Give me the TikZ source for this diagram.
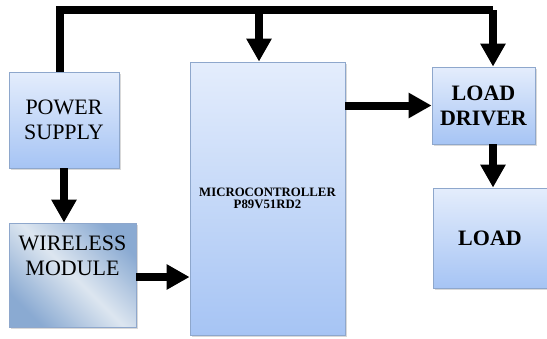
\documentclass[tikz,border=0pt]{standalone}
\usepackage{fontspec}
\setmainfont{LiberationSerif}[Extension=.ttf, UprightFont=*-Regular, BoldFont=*-Bold]
\newfontfamily\blockfont{LiberationSerif}[Extension=.ttf, UprightFont=*-Regular, BoldFont=*-Bold]
\usetikzlibrary{arrows.meta, shadows, calc}

\definecolor{boxtop}{HTML}{E4EDFC}
\definecolor{boxbot}{HTML}{A6C4F4}
\definecolor{boxline}{HTML}{8EA7CC}
\definecolor{wldark}{HTML}{8AAAD2}
\definecolor{wllight}{HTML}{DDE6F0}

\begin{document}
\begin{tikzpicture}[
  x=1pt, y=-1pt,
  block/.style={rectangle, draw=boxline, line width=0.8pt,
                top color=boxtop, bottom color=boxbot,
                align=center, inner sep=0pt,
                drop shadow={opacity=0.3, shadow xshift=1.5pt, shadow yshift=-1.5pt}},
  bigtext/.style={font=\blockfont\fontsize{22}{25}\selectfont},
  boldtext/.style={font=\blockfont\fontsize{22}{25}\selectfont\bfseries},
  smalltext/.style={font=\blockfont\fontsize{12.8}{12}\selectfont\bfseries},
  bus/.style={line width=8pt, line join=miter},
  arrow/.style={line width=8pt, -{Triangle[width=24pt, length=23pt]}}
]
\useasboundingbox (0,0) rectangle (547,338);

% Left column: supply and radio
\node[block, bigtext, minimum width=110pt, minimum height=96pt] (power) at (64,120) {POWER\\SUPPLY};
\node[block, bigtext, minimum width=127pt, minimum height=104pt,
      top color=wldark, bottom color=wldark, middle color=wllight, shading angle=-45,
      text depth=39pt] (wireless) at (72.5,275) {WIRELESS\\MODULE};

% Middle column: controller
\node[block, smalltext, minimum width=155pt, minimum height=273pt] (micro) at (267.5,198.5) {MICROCONTROLLER\\P89V51RD2};

% Right column: driver and load
\node[block, boldtext, minimum width=103pt, minimum height=77pt] (driver) at (483.5,105.5) {LOAD\\DRIVER};
\node[block, boldtext, minimum width=114pt, minimum height=100pt] (load) at (490,238) {LOAD};

% Bus corners along the top
\coordinate (busleft)  at (60,10);
\coordinate (busmid)   at (259,10);
\coordinate (busright) at (493,10);

% --- Arrows ---
% Supply bus to controller and driver
\draw[bus] (power.north -| busleft) -- (busleft) -- (busright);
\draw[arrow] (busright) -- (driver.north -| busright);
\draw[arrow] (busmid) -- (micro.north -| busmid);

% Supply -> wireless module
\draw[arrow] (power.south) -- (power.south |- wireless.north);

% Wireless module -> controller
\draw[arrow] ($(wireless.east)+(0,2)$) -- ($(wireless.east -| micro.west)+(0,2)$);

% Controller -> driver
\draw[arrow] (micro.east |- driver.west) -- (driver.west);

% Driver -> load
\draw[arrow] (busright |- driver.south) -- (busright |- load.north);

\end{tikzpicture}
\end{document}
